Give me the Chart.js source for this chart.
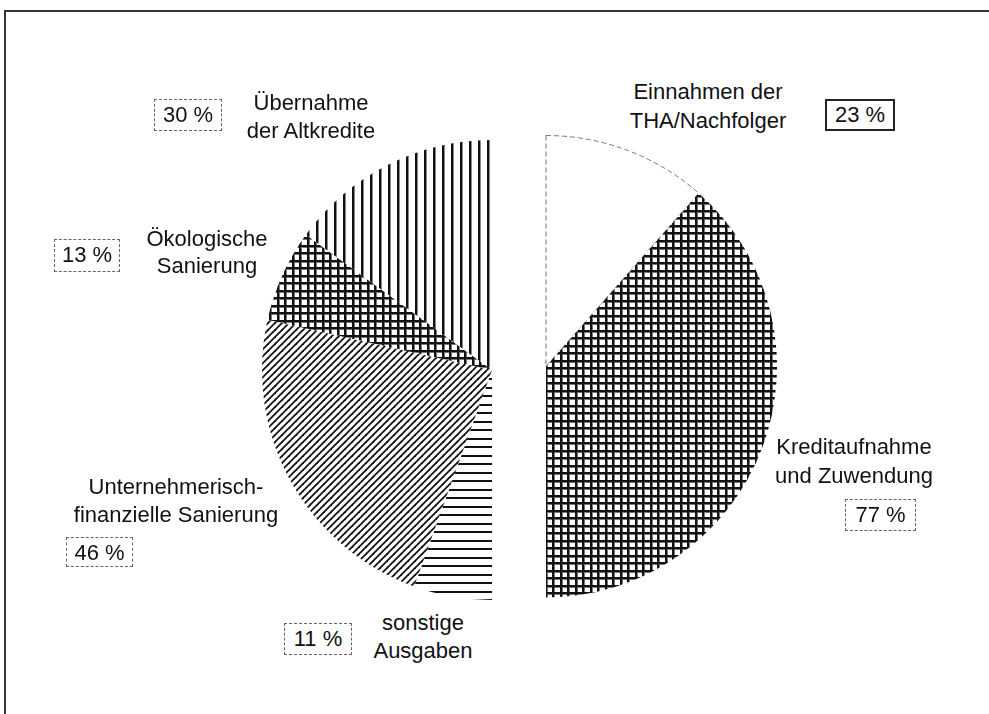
<!DOCTYPE html>
<html lang="de">
<head>
<meta charset="utf-8">
<title>Einnahmen und Ausgaben</title>
<script src="https://cdn.jsdelivr.net/npm/chart.js@4.4.1/dist/chart.umd.min.js"></script>
<style>
  html, body { margin: 0; padding: 0; background: #fff; }
  body {
    width: 989px; height: 714px; position: relative; overflow: hidden;
    font-family: "Liberation Sans", Arial, sans-serif; color: #111;
  }
  #frame {
    position: absolute; left: 4px; top: 10px; right: -10px; bottom: -10px;
    border-top: 2px solid #333; border-left: 2px solid #333;
  }
  canvas { position: absolute; }
  .lbl {
    position: absolute; font-size: 22px; text-align: center;
    white-space: nowrap; transform: translateX(-50%);
  }
  .pct {
    position: absolute; box-sizing: border-box; font-size: 22px;
    line-height: 30px; text-align: center; border: 1px dashed #666;
  }
  .pct.solid { border: 2px solid #222; line-height: 28px; }
</style>
</head>
<body>
<div id="frame"></div>
<canvas id="ausgaben" width="230" height="460" style="left:262px;top:140px"></canvas>
<canvas id="einnahmen" width="233" height="463" style="left:545px;top:135px"></canvas>

<script>
// left half: Ausgaben, clockwise from the bottom
const spendingLabels = [
  ['sonstige', 'Ausgaben'],
  ['Unternehmerisch-', 'finanzielle Sanierung'],
  ['Ökologische', 'Sanierung'],
  ['Übernahme', 'der Altkredite']
];
const spendingShares = [11, 46, 13, 30];

// right half: Einnahmen, clockwise from the top
const incomeLabels = [
  ['Einnahmen der', 'THA/Nachfolger'],
  ['Kreditaufnahme', 'und Zuwendung']
];
const incomeShares = [23, 77];

// where the names and the percent boxes go: [centerX, top, lineHeight] and [left, top, w, h]
const spendingText = [[423, 609, 28], [176, 473, 28], [207, 225, 27], [311, 89, 28]];
const spendingBox = [[284, 623, 68, 32], [66, 537, 67, 30], [54, 239, 66, 33], [154, 99, 68, 32]];
const incomeText = [[708, 77, 29], [854, 432, 29]];
const incomeBox = [[825, 99, 70, 32], [845, 499, 71, 32]];

const INK = '#111';

function hatch(ctx, kind) {
  const t = document.createElement('canvas');
  const g = t.getContext('2d');
  if (kind === 'vertical') {
    t.width = 9; t.height = 9;
    g.fillStyle = '#fff'; g.fillRect(0, 0, 9, 9);
    g.fillStyle = INK; g.fillRect(0, 0, 2, 9);
    g.fillStyle = '#888'; g.fillRect(2, 0, 1, 9);
  } else if (kind === 'horizontal') {
    t.width = 8; t.height = 17;
    g.fillStyle = '#fff'; g.fillRect(0, 0, 8, 17);
    g.fillStyle = INK; g.fillRect(0, 0, 8, 2); g.fillRect(0, 9, 8, 2);
  } else if (kind === 'grid') {
    t.width = 15; t.height = 15;
    g.fillStyle = '#fff'; g.fillRect(0, 0, 15, 15);
    g.fillStyle = '#777';
    g.fillRect(2, 0, 1, 15); g.fillRect(9, 0, 1, 15);
    g.fillRect(0, 2, 15, 1); g.fillRect(0, 9, 15, 1);
    g.fillStyle = INK;
    g.fillRect(0, 0, 2, 15); g.fillRect(7, 0, 2, 15);
    g.fillRect(0, 0, 15, 2); g.fillRect(0, 7, 15, 2);
  } else {
    // rising diagonals
    t.width = 7; t.height = 7;
    g.fillStyle = '#fff'; g.fillRect(0, 0, 7, 7);
    g.strokeStyle = INK; g.lineWidth = 1.8;
    for (const k of [-7, 0, 7]) {
      g.beginPath(); g.moveTo(k - 1, 8); g.lineTo(k + 8, -1); g.stroke();
    }
  }
  return ctx.createPattern(t, 'repeat');
}

function addLabels(names, shares, textPos, boxPos, solidIndex) {
  names.forEach((lines, i) => {
    const [cx, top, lh] = textPos[i];
    const d = document.createElement('div');
    d.className = 'lbl';
    d.style.left = cx + 'px';
    d.style.top = top + 'px';
    d.style.lineHeight = lh + 'px';
    d.innerHTML = lines.join('<br>');
    document.body.appendChild(d);

    const [x, y, w, h] = boxPos[i];
    const b = document.createElement('div');
    b.className = 'pct' + (i === solidIndex ? ' solid' : '');
    b.style.left = x + 'px';
    b.style.top = y + 'px';
    b.style.width = w + 'px';
    b.style.height = h + 'px';
    b.textContent = shares[i] + ' %';
    document.body.appendChild(b);
  });
}

const common = {
  responsive: false,
  animation: false,
  events: [],
  layout: { padding: 0 },
  plugins: { legend: { display: false }, tooltip: { enabled: false } }
};

const leftCtx = document.getElementById('ausgaben').getContext('2d');
new Chart(leftCtx, {
  type: 'pie',
  data: {
    labels: spendingLabels,
    datasets: [{
      data: spendingShares,
      backgroundColor: [
        hatch(leftCtx, 'horizontal'),
        hatch(leftCtx, 'diagonal'),
        hatch(leftCtx, 'grid'),
        hatch(leftCtx, 'vertical')
      ],
      borderWidth: 0,
      hoverOffset: 0
    }]
  },
  options: Object.assign({ rotation: 180, circumference: 180 }, common)
});

const rightCtx = document.getElementById('einnahmen').getContext('2d');
new Chart(rightCtx, {
  type: 'pie',
  data: {
    labels: incomeLabels,
    datasets: [{
      data: incomeShares,
      backgroundColor: ['#fff', hatch(rightCtx, 'grid')],
      borderColor: ['#777', 'rgba(0,0,0,0)'],
      borderWidth: [1, 0],
      borderDash: [5, 3],
      hoverOffset: 0
    }]
  },
  options: Object.assign({ rotation: 0, circumference: 180 }, common)
});

addLabels(spendingLabels, spendingShares, spendingText, spendingBox, -1);
addLabels(incomeLabels, incomeShares, incomeText, incomeBox, 0);
</script>
</body>
</html>
